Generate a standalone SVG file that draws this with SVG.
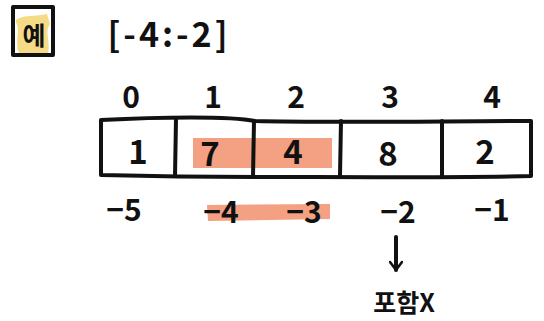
<svg xmlns="http://www.w3.org/2000/svg" width="544" height="321" viewBox="0 0 544 321">
  <defs>
    <style>
      .ink { fill: none; stroke: #111; stroke-width: 4; stroke-linecap: round; stroke-linejoin: round; }
      .lbl { font-family: "Noto Sans CJK KR", "Noto Sans", sans-serif; fill: #111; text-anchor: middle; dominant-baseline: central; font-weight: 700; }
      .idx { font-size: 30px; }
      .val { font-size: 33px; }
      .hl { fill: #F4A083; }
    </style>
    <marker id="arrow" viewBox="0 0 14 14" refX="12" refY="7" markerWidth="14" markerHeight="14" markerUnits="userSpaceOnUse" orient="auto">
      <path d="M4,1 L12,7 L4,13" fill="none" stroke="#111" stroke-width="2.6" stroke-linecap="round" stroke-linejoin="round"/>
    </marker>
  </defs>
  <rect width="544" height="321" fill="#fff"/>

  <!-- example tag -->
  <g id="tag">
    <path d="M16,20 C24,14 36,17 47,14 L50,24 C44,32 51,42 48,53 L19,53 C14,42 21,31 16,22 Z" fill="#F5D77A" opacity="0.9"/>
    <rect x="13" y="7" width="40" height="48" class="ink" stroke-width="3.5"/>
    <text x="34" y="34" class="lbl" font-size="25">예</text>
  </g>

  <!-- slice expression -->
  <g id="slice">
    <text x="169" y="32" class="lbl" font-size="34" letter-spacing="3">[-4:-2]</text>
  </g>

  <!-- positive indices -->
  <g id="indices-pos">
    <text x="131" y="95" class="lbl idx">0</text>
    <text x="213" y="95" class="lbl idx">1</text>
    <text x="296" y="95" class="lbl idx">2</text>
    <text x="390" y="95" class="lbl idx">3</text>
    <text x="492" y="95" class="lbl idx">4</text>
  </g>

  <!-- highlighted cells -->
  <rect x="193" y="138" width="139" height="30" class="hl"/>

  <!-- array cells -->
  <g id="array">
    <path d="M101,120 C160,117 230,116 255,121 C330,123 450,121 531,121 L531,176 C450,178 330,177 255,177 C200,177 140,176 101,175 Z" class="ink"/>
    <path d="M176,119 L175,176" class="ink"/>
    <path d="M254,121 L253,177" class="ink"/>
    <path d="M341,121 L340,175" class="ink"/>
    <path d="M442,121 L442,177" class="ink"/>
  </g>
  <g id="cell-0"><text x="138" y="150" class="lbl val">1</text></g>
  <g id="cell-1"><text x="210" y="152" class="lbl val">7</text></g>
  <g id="cell-2"><text x="293" y="150" class="lbl val">4</text></g>
  <g id="cell-3"><text x="388" y="152" class="lbl val">8</text></g>
  <g id="cell-4"><text x="485" y="150" class="lbl val">2</text></g>

  <!-- negative indices -->
  <path d="M207,205 L330,204 L330,219 L208,221 Z" class="hl"/>
  <g id="indices-neg">
    <text x="124" y="208" class="lbl idx">−5</text>
    <text x="221" y="210" class="lbl idx">−4</text>
    <text x="304" y="210" class="lbl idx">−3</text>
    <text x="398" y="210" class="lbl idx">−2</text>
    <text x="492" y="208" class="lbl idx">−1</text>
  </g>

  <!-- connectors -->
  <g id="connectors">
    <path d="M396,237 L396,270" class="ink" stroke-width="3" marker-end="url(#arrow)"/>
  </g>

  <g id="note">
    <text x="404" y="301" class="lbl" font-size="25">포함X</text>
  </g>
</svg>
